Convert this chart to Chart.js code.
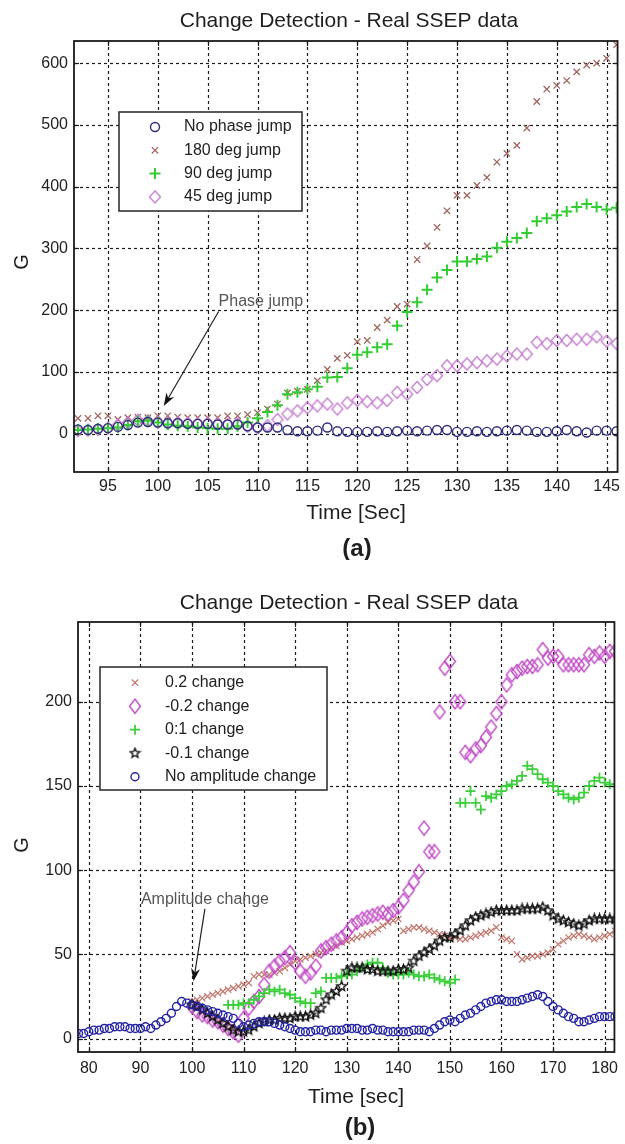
<!DOCTYPE html>
<html>
<head>
<meta charset="utf-8">
<script src="https://cdn.jsdelivr.net/npm/chart.js@4.4.0/dist/chart.umd.min.js"></script>
<style>
  body { margin: 0; background: #fff; width: 625px; height: 1144px; overflow: hidden; position: relative; }
  .panel { position: absolute; left: 0; width: 625px; }
</style>
</head>
<body>
<div class="panel" style="top:0;height:560px"><canvas id="chartA"></canvas></div>
<div class="panel" style="top:560px;height:584px"><canvas id="chartB"></canvas></div>
<script>
// ---- panel (a): phase jump, one sample per second ----
const timeA = [92, 93, 94, 95, 96, 97, 98, 99, 100, 101, 102, 103, 104, 105, 106, 107, 108, 109,
  110, 111, 112, 113, 114, 115, 116, 117, 118, 119, 120, 121, 122, 123, 124, 125, 126, 127, 128,
  129, 130, 131, 132, 133, 134, 135, 136, 137, 138, 139, 140, 141, 142, 143, 144, 145, 146];
const noJumpA = [7, 6, 8, 9, 11, 14, 18, 19, 18, 17, 17, 16, 16, 16, 15, 15, 15, 12,
  10, 10, 10, 6, 4, 4, 5, 10, 4, 3, 3, 3, 4, 3, 4, 5, 4, 5, 6,
  6, 3, 3, 4, 3, 4, 5, 6, 5, 3, 3, 4, 6, 4, 2, 5, 5, 4];
const jump180A = [25, 25, 29, 29, 23, 26, 27, 26, 29, 29, 27, 26, 26, 26, 26, 29, 29, 31,
  34, 40, 48, 66, 69, 72, 86, 104, 122, 127, 149, 151, 172, 184, 206, 210, 282, 304, 334,
  361, 386, 386, 402, 415, 440, 454, 467, 495, 538, 558, 564, 572, 586, 597, 600, 608, 630];
const jump90A = [6, 7, 8, 9, 10, 14, 20, 21, 18, 15, 13, 12, 10, 9, 8, 8, 12, 18,
  25, 35, 46, 64, 67, 72, 76, 91, 92, 106, 128, 132, 140, 145, 175, 197, 213, 233, 253,
  265, 279, 279, 283, 287, 301, 311, 317, 325, 344, 349, 354, 360, 367, 372, 367, 363, 366];
const jump45A = [5, 6, 7, 9, 14, 18, 22, 21, 18, 17, 18, 17, 16, 17, 16, 15, 16, 12,
  10, 13, 23, 32, 37, 42, 45, 48, 40, 50, 54, 52, 50, 54, 67, 64, 75, 88, 94,
  110, 110, 113, 115, 118, 121, 126, 129, 129, 148, 146, 151, 151, 153, 153, 157, 150, 146];
const xTicksA = [95, 100, 105, 110, 115, 120, 125, 130, 135, 140, 145];
const yTicksA = [0, 100, 200, 300, 400, 500, 600];

// ---- panel (b): amplitude change ----
const timeB = [78, 79, 80, 81, 82, 83, 84, 85, 86, 87, 88, 89, 90, 91, 92, 93, 94, 95, 96, 97,
  98, 99, 100, 101, 102, 103, 104, 105, 106, 107, 108, 109, 110, 111, 112, 113, 114, 115, 116, 117,
  118, 119, 120, 121, 122, 123, 124, 125, 126, 127, 128, 129, 130, 131, 132, 133, 134, 135, 136, 137,
  138, 139, 140, 141, 142, 143, 144, 145, 146, 147, 148, 149, 150, 151, 152, 153, 154, 155, 156, 157,
  158, 159, 160, 161, 162, 163, 164, 165, 166, 167, 168, 169, 170, 171, 172, 173, 174, 175, 176, 177,
  178, 179, 180, 181, 182];
const noChangeB = [3, 3, 4, 5, 5, 6, 6, 7, 7, 7, 6, 6, 6, 7, 6, 8, 10, 12, 15, 19,
  22, 21, 20, 19, 18, 17, 16, 15, 14, 13, 12, 9, 7, 8, 9, 10, 10, 10, 9, 8,
  7, 6, 5, 4, 4, 4, 5, 5, 4, 5, 5, 5, 6, 6, 6, 5, 5, 6, 5, 5,
  4, 4, 4, 4, 4, 5, 5, 5, 4, 6, 8, 10, 11, 10, 12, 14, 15, 17, 19, 21,
  22, 23, 23, 22, 22, 22, 23, 24, 25, 26, 25, 22, 19, 17, 15, 13, 12, 10, 10, 11,
  12, 13, 13, 13, 13];
const plus02B = [null, null, null, null, null, null, null, null, null, null, null, null, null, null, null, null, null, null, null, null,
  null, null, 22, 23, 24, 25, 26, 27, 28, 29, 30, 31, 32, 33, 37, 38, 38, 38, 39, 40,
  42, 44, 46, 47, 48, 49, 50, 51, 52, 54, 55, 57, 58, 59, 60, 61, 62, 63, 65, 67,
  69, 70, 71, 64, 65, 66, 66, 65, 64, 63, 62, 61, 60, 60, 59, 59, 60, 61, 62, 63,
  64, 66, 60, 59, 58, 50, 47, 48, 49, 49, 50, 51, 53, 56, 58, 60, 61, 62, 61, 60,
  59, 60, 61, 62, 64];
const minus02B = [null, null, null, null, null, null, null, null, null, null, null, null, null, null, null, null, null, null, null, null,
  null, null, 19, 16, 14, 13, 11, 10, 8, 6, 4, 2, 12, 18, 22, 25, 32, 40, 43, 46,
  48, 51, 45, 40, 37, 39, 43, 52, 54, 56, 58, 60, 63, 67, 69, 71, 72, 73, 74, 75,
  74, 76, 78, 82, 88, 93, 99, 125, 111, 111, 194, 220, 224, 200, 200, 170, 168, 172, 174, 179,
  185, 193, 200, 210, 216, 218, 220, 221, 221, 222, 231, 226, 227, 227, 222, 222, 222, 222, 222, 228,
  227, 229, 227, 230, 230];
const plus01B = [null, null, null, null, null, null, null, null, null, null, null, null, null, null, null, null, null, null, null, null,
  null, null, null, null, null, null, null, null, null, 20, 20, 20, 21, 21, 23, 25, 27, 29, 28, 29,
  27, 26, 24, 22, 21, 21, 27, 28, 36, 36, 36, 37, 38, 38, 40, 42, 44, 45, 45, 42,
  39, 38, 38, 38, 39, 38, 37, 37, 38, 36, 35, 34, 33, 35, 140, 140, 147, 140, 136, 144,
  143, 145, 147, 150, 151, 153, 156, 162, 160, 157, 154, 152, 150, 147, 145, 143, 142, 143, 146, 150,
  153, 155, 152, 151, 151];
const minus01B = [null, null, null, null, null, null, null, null, null, null, null, null, null, null, null, null, null, null, null, null,
  null, null, 20, 19, 17, 15, 13, 11, 9, 7, 5, 4, 4, 5, 7, 9, 10, 11, 11, 12,
  12, 12, 13, 13, 13, 14, 15, 18, 23, 26, 28, 31, 40, 42, 42, 42, 41, 41, 40, 40,
  40, 40, 41, 41, 42, 46, 49, 51, 53, 55, 58, 60, 60, 62, 64, 67, 70, 72, 73, 74,
  75, 76, 76, 76, 76, 76, 77, 77, 77, 77, 78, 76, 73, 71, 70, 69, 68, 67, 68, 70,
  71, 71, 71, 71, 71];
const xTicksB = [80, 90, 100, 110, 120, 130, 140, 150, 160, 170, 180];
const yTicksB = [0, 50, 100, 150, 200];

const FONT = '"Liberation Sans", Arial, Helvetica, sans-serif';

// outlined marker images for the shapes Chart.js has no close match for
function diamondMarker(color, w, h, lw) {
  const c = document.createElement('canvas');
  c.width = w + 3; c.height = h + 3;
  const g = c.getContext('2d');
  const cx = c.width / 2, cy = c.height / 2;
  g.strokeStyle = color; g.lineWidth = lw;
  g.beginPath();
  g.moveTo(cx, cy - h / 2); g.lineTo(cx + w / 2, cy);
  g.lineTo(cx, cy + h / 2); g.lineTo(cx - w / 2, cy);
  g.closePath(); g.stroke();
  return c;
}

function starMarker(color, r, lw) {
  const c = document.createElement('canvas');
  c.width = c.height = Math.ceil(r * 2 + 3);
  const g = c.getContext('2d');
  const cx = c.width / 2, cy = c.height / 2;
  g.strokeStyle = color; g.lineWidth = lw;
  g.beginPath();
  for (let k = 0; k < 10; k++) {
    const rr = k % 2 ? r * 0.45 : r;
    const a = -Math.PI / 2 + k * Math.PI / 5;
    const px = cx + rr * Math.cos(a), py = cy + rr * Math.sin(a);
    if (k == 0) g.moveTo(px, py); else g.lineTo(px, py);
  }
  g.closePath(); g.stroke();
  return c;
}

// draw one legend symbol the same way the points are drawn
function drawMarker(ctx, m, x, y) {
  ctx.save();
  ctx.setLineDash([]);
  if (m.image) {
    ctx.drawImage(m.image, x - m.image.width / 2, y - m.image.height / 2);
    ctx.restore();
    return;
  }
  ctx.strokeStyle = m.color;
  ctx.lineWidth = m.width;
  ctx.beginPath();
  if (m.shape == 'circle') {
    ctx.arc(x, y, m.radius, 0, Math.PI * 2);
  } else if (m.shape == 'cross') {
    ctx.moveTo(x, y - m.radius); ctx.lineTo(x, y + m.radius);
    ctx.moveTo(x - m.radius, y); ctx.lineTo(x + m.radius, y);
  } else {
    const d = m.radius * Math.SQRT1_2;
    ctx.moveTo(x - d, y - d); ctx.lineTo(x + d, y + d);
    ctx.moveTo(x + d, y - d); ctx.lineTo(x - d, y + d);
  }
  ctx.stroke();
  ctx.restore();
}

function series(label, times, values, m, order) {
  return {
    label: label,
    data: times.map((t, i) => ({ x: t, y: values[i] })),
    showLine: false,
    clip: 0,
    order: order,
    pointStyle: m.image || m.shape,
    pointRadius: m.radius,
    pointBorderWidth: m.width,
    pointBorderColor: m.color,
    pointBackgroundColor: 'rgba(0,0,0,0)',
    borderColor: m.color,
    backgroundColor: 'rgba(0,0,0,0)',
  };
}

// MATLAB-style frame: dotted grid, boxed axes with inward ticks, titles, legend, arrow note
function frame(spec) {
  function line(ctx, x1, y1, x2, y2) {
    ctx.beginPath(); ctx.moveTo(x1, y1); ctx.lineTo(x2, y2); ctx.stroke();
  }
  return {
    id: 'frame',
    beforeDatasetsDraw(chart) {
      const { ctx, chartArea: a, scales } = chart;
      ctx.save();
      ctx.strokeStyle = '#1c1c1c';
      ctx.lineWidth = 1.2;
      ctx.setLineDash([3, 3]);
      spec.xTicks.forEach(v => {
        const px = Math.round(scales.x.getPixelForValue(v)) + 0.5;
        line(ctx, px, a.top, px, a.bottom);
      });
      spec.yTicks.forEach(v => {
        const py = Math.round(scales.y.getPixelForValue(v)) + 0.5;
        line(ctx, a.left, py, a.right, py);
      });
      ctx.restore();
    },
    afterDatasetsDraw(chart) {
      const { ctx, chartArea: a, scales } = chart;
      ctx.save();
      ctx.strokeStyle = '#1a1a1a';
      ctx.lineWidth = 1.8;
      ctx.setLineDash([]);
      ctx.strokeRect(a.left, a.top, a.right - a.left, a.bottom - a.top);
      ctx.lineWidth = 1.2;
      spec.xTicks.forEach(v => {
        const px = Math.round(scales.x.getPixelForValue(v)) + 0.5;
        line(ctx, px, a.bottom, px, a.bottom - 5);
        line(ctx, px, a.top, px, a.top + 5);
      });
      spec.yTicks.forEach(v => {
        const py = Math.round(scales.y.getPixelForValue(v)) + 0.5;
        line(ctx, a.left, py, a.left + 5, py);
        line(ctx, a.right, py, a.right - 5, py);
      });

      // arrow note
      const n = spec.note;
      const tx = scales.x.getPixelForValue(n.at[0]), ty = scales.y.getPixelForValue(n.at[1]);
      ctx.font = '16px ' + FONT;
      ctx.fillStyle = '#555';
      ctx.textAlign = 'left';
      ctx.textBaseline = 'middle';
      ctx.fillText(n.text, tx, ty);
      const x1 = scales.x.getPixelForValue(n.from[0]), y1 = scales.y.getPixelForValue(n.from[1]);
      const x2 = scales.x.getPixelForValue(n.to[0]), y2 = scales.y.getPixelForValue(n.to[1]);
      const ang = Math.atan2(y2 - y1, x2 - x1);
      ctx.strokeStyle = '#222';
      ctx.fillStyle = '#111';
      ctx.lineWidth = 1.2;
      line(ctx, x1, y1, x2 - 8 * Math.cos(ang), y2 - 8 * Math.sin(ang));
      ctx.beginPath();
      ctx.moveTo(x2, y2);
      ctx.lineTo(x2 - 13 * Math.cos(ang) + 4.5 * Math.sin(ang), y2 - 13 * Math.sin(ang) - 4.5 * Math.cos(ang));
      ctx.lineTo(x2 - 9 * Math.cos(ang), y2 - 9 * Math.sin(ang));
      ctx.lineTo(x2 - 13 * Math.cos(ang) - 4.5 * Math.sin(ang), y2 - 13 * Math.sin(ang) + 4.5 * Math.cos(ang));
      ctx.closePath();
      ctx.fill();

      // legend box
      const L = spec.legend;
      ctx.fillStyle = '#fff';
      ctx.fillRect(L.left, L.top, L.right - L.left, L.bottom - L.top);
      ctx.strokeStyle = '#333';
      ctx.lineWidth = 1.6;
      ctx.strokeRect(L.left, L.top, L.right - L.left, L.bottom - L.top);
      ctx.fillStyle = '#222';
      ctx.font = '16px ' + FONT;
      spec.legendItems.forEach((item, i) => {
        const y = L.firstRow + i * L.rowStep;
        drawMarker(ctx, item.marker, L.symbolX, y);
        ctx.fillText(item.label, L.textX, y);
      });
      ctx.restore();
    },
    afterDraw(chart) {
      const ctx = chart.ctx;
      ctx.save();
      ctx.fillStyle = '#1e1e1e';
      ctx.textAlign = 'center';
      ctx.textBaseline = 'middle';
      ctx.font = '21px ' + FONT;
      ctx.fillText(spec.title.text, spec.title.x, spec.title.y);
      ctx.fillText(spec.xLabel.text, spec.xLabel.x, spec.xLabel.y);
      ctx.save();
      ctx.translate(spec.yLabel.x, spec.yLabel.y);
      ctx.rotate(-Math.PI / 2);
      ctx.font = '20px ' + FONT;
      ctx.fillText(spec.yLabel.text, 0, 0);
      ctx.restore();
      ctx.font = 'bold 24px ' + FONT;
      ctx.fillText(spec.tag.text, spec.tag.x, spec.tag.y);
      ctx.restore();
    },
  };
}

function makeChart(id, spec, datasets) {
  return new Chart(document.getElementById(id), {
    type: 'scatter',
    data: { datasets: datasets },
    options: {
      responsive: true,
      maintainAspectRatio: false,
      animation: false,
      events: [],
      layout: {
        autoPadding: false,
        padding: { top: spec.area.top, right: 625 - spec.area.right, left: 0, bottom: 0 },
      },
      plugins: { legend: { display: false }, tooltip: { enabled: false } },
      scales: {
        x: {
          type: 'linear',
          min: spec.xMin,
          max: spec.xMax,
          afterBuildTicks: s => { s.ticks = spec.xTicks.map(v => ({ value: v })); },
          afterFit: s => { s.height = s.chart.height - spec.area.bottom; },
          grid: { display: false, drawTicks: false },
          border: { display: false },
          ticks: { font: { family: FONT, size: 16 }, color: '#222', padding: spec.xTickPad, maxRotation: 0, autoSkip: false },
        },
        y: {
          type: 'linear',
          min: spec.yMin,
          max: spec.yMax,
          afterBuildTicks: s => { s.ticks = spec.yTicks.map(v => ({ value: v })); },
          afterFit: s => { s.width = spec.area.left; },
          grid: { display: false, drawTicks: false },
          border: { display: false },
          ticks: { font: { family: FONT, size: 16 }, color: '#222', padding: 6, autoSkip: false },
        },
      },
    },
    plugins: [frame(spec)],
  });
}

// ---- markers ----
const mk = {
  circA: { shape: 'circle', radius: 4.5, width: 1.4, color: '#2e2e7c' },
  xA: { shape: 'crossRot', radius: 4.5, width: 1.3, color: '#a0665f' },
  plusA: { shape: 'cross', radius: 5.5, width: 2, color: '#33cc33' },
  diamA: { image: diamondMarker('#c47ad0', 11, 12, 1.3), radius: 6, width: 1, color: '#c47ad0' },
  xB: { shape: 'crossRot', radius: 4.5, width: 1.2, color: '#c0746a' },
  diamB: { image: diamondMarker('#c24cc6', 11, 14, 1.4), radius: 6, width: 1, color: '#c24cc6' },
  plusB: { shape: 'cross', radius: 5, width: 1.8, color: '#3bd03b' },
  starB: { image: starMarker('#111', 5, 1.4), radius: 5, width: 1, color: '#111' },
  circB: { shape: 'circle', radius: 4, width: 1.4, color: '#2424a2' },
};

const specA = {
  xMin: 91.6, xMax: 146.1, yMin: -62, yMax: 636,
  xTicks: xTicksA, yTicks: yTicksA, xTickPad: 5,
  area: { left: 74, top: 41, right: 623, bottom: 472 },
  title: { text: 'Change Detection - Real SSEP data', x: 349, y: 21 },
  xLabel: { text: 'Time [Sec]', x: 356, y: 513 },
  yLabel: { text: 'G', x: 22, y: 262 },
  tag: { text: '(a)', x: 357, y: 549 },
  legend: { left: 119, top: 112, right: 302, bottom: 211, symbolX: 155, textX: 184, firstRow: 127, rowStep: 23.3 },
  legendItems: [
    { label: 'No phase jump', marker: mk.circA },
    { label: '180 deg jump', marker: mk.xA },
    { label: '90 deg jump', marker: mk.plusA },
    { label: '45 deg jump', marker: mk.diamA },
  ],
  note: { text: 'Phase jump', at: [106.1, 214], from: [106.1, 198], to: [100.6, 45] },
};

const specB = {
  xMin: 77.9, xMax: 181.9, yMin: -8, yMax: 247.4,
  xTicks: xTicksB, yTicks: yTicksB, xTickPad: 7,
  area: { left: 78, top: 62, right: 624, bottom: 492 },
  title: { text: 'Change Detection - Real SSEP data', x: 349, y: 43 },
  xLabel: { text: 'Time [sec]', x: 356, y: 537 },
  yLabel: { text: 'G', x: 22, y: 285 },
  tag: { text: '(b)', x: 360, y: 568 },
  legend: { left: 100, top: 107, right: 327, bottom: 230, symbolX: 135, textX: 165, firstRow: 122.7, rowStep: 23.5 },
  legendItems: [
    { label: '0.2 change', marker: mk.xB },
    { label: '-0.2 change', marker: mk.diamB },
    { label: '0:1 change', marker: mk.plusB },
    { label: '-0.1 change', marker: mk.starB },
    { label: 'No amplitude change', marker: mk.circB },
  ],
  note: { text: 'Amplitude change', at: [90.1, 82.5], from: [102.5, 77], to: [100.3, 34] },
};

makeChart('chartA', specA, [
  series('No phase jump', timeA, noJumpA, mk.circA, 0),
  series('180 deg jump', timeA, jump180A, mk.xA, 3),
  series('90 deg jump', timeA, jump90A, mk.plusA, 1),
  series('45 deg jump', timeA, jump45A, mk.diamA, 2),
]);

makeChart('chartB', specB, [
  series('0.2 change', timeB, plus02B, mk.xB, 4),
  series('-0.2 change', timeB, minus02B, mk.diamB, 3),
  series('0:1 change', timeB, plus01B, mk.plusB, 2),
  series('-0.1 change', timeB, minus01B, mk.starB, 1),
  series('No amplitude change', timeB, noChangeB, mk.circB, 0),
]);
</script>
</body>
</html>
